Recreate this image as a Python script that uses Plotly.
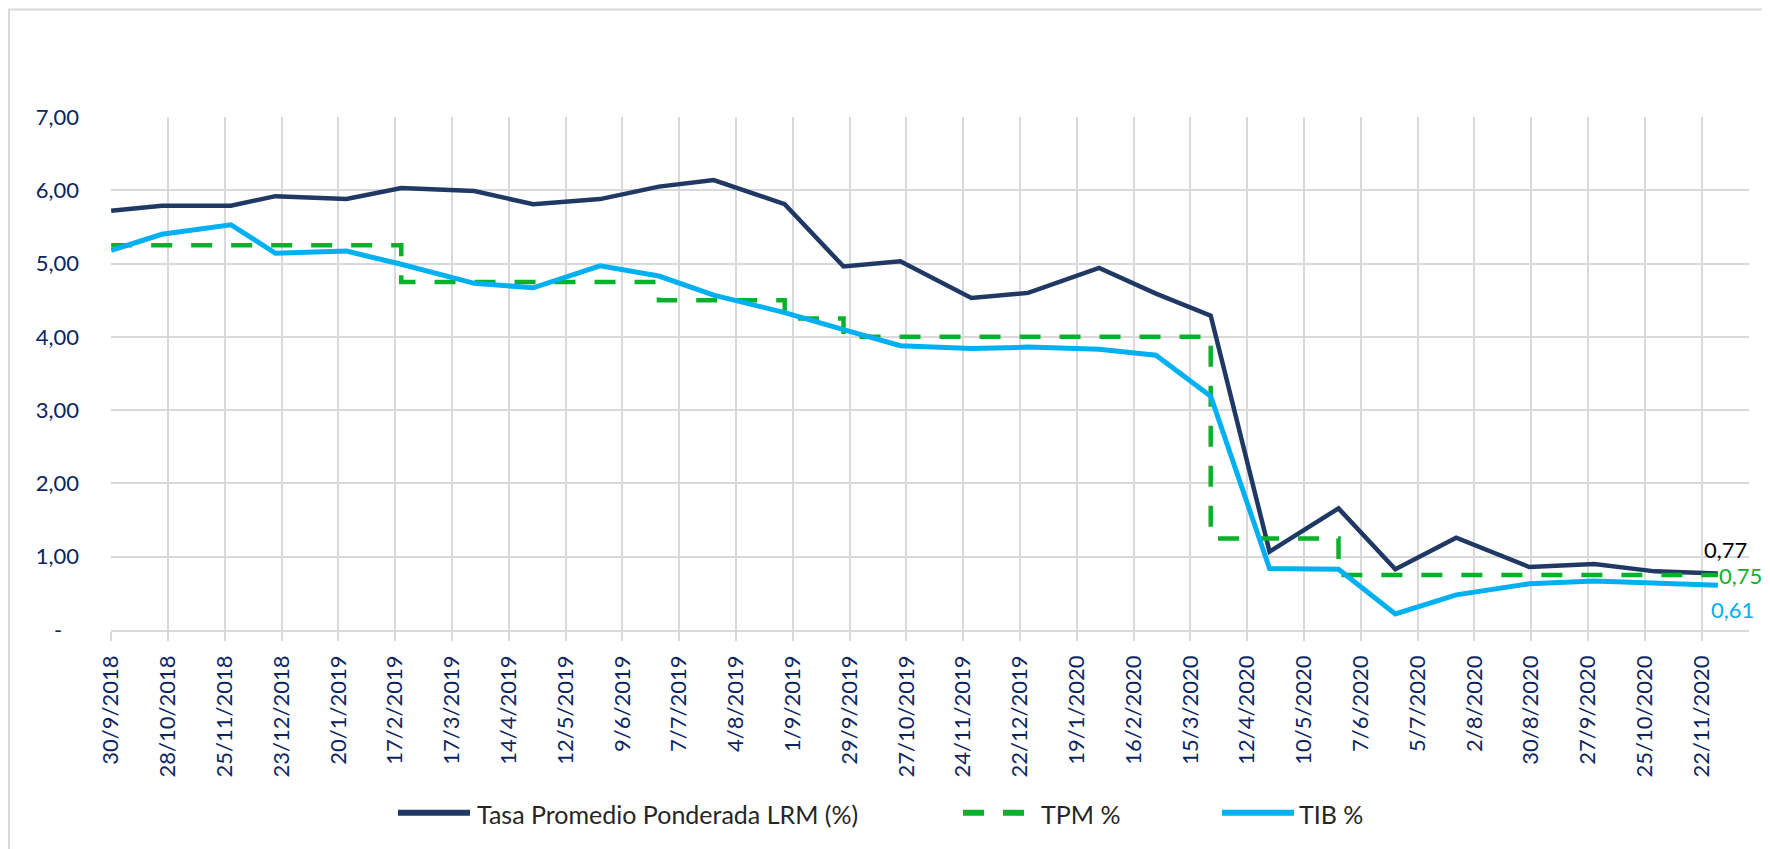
import plotly.graph_objects as go

# ---------------- data ----------------
dates = ["2018-09-30", "2018-10-25", "2018-11-28", "2018-12-20", "2019-01-24",
         "2019-02-20", "2019-03-28", "2019-04-26", "2019-05-29", "2019-06-27",
         "2019-07-24", "2019-08-28", "2019-09-26", "2019-10-24", "2019-11-28",
         "2019-12-26", "2020-01-30", "2020-02-27", "2020-03-25", "2020-04-23",
         "2020-05-27", "2020-06-24", "2020-07-24", "2020-08-29", "2020-09-30",
         "2020-10-30", "2020-11-30"]

lrm = [5.72, 5.79, 5.79, 5.92, 5.88, 6.03, 5.99, 5.81, 5.88, 6.05,
       6.14, 5.81, 4.96, 5.03, 4.53, 4.60, 4.94, 4.59, 4.29, 1.07,
       1.66, 0.83, 1.26, 0.86, 0.90, 0.80, 0.77]

tpm = [5.25, 5.25, 5.25, 5.25, 5.25, 4.75, 4.75, 4.75, 4.75, 4.50,
       4.50, 4.25, 4.00, 4.00, 4.00, 4.00, 4.00, 4.00, 1.25, 1.25,
       0.75, 0.75, 0.75, 0.75, 0.75, 0.75, 0.75]

tib = [5.18, 5.40, 5.53, 5.14, 5.17, 4.99, 4.73, 4.67, 4.97, 4.83,
       4.57, 4.33, 4.10, 3.88, 3.84, 3.86, 3.83, 3.75, 3.19, 0.84,
       0.83, 0.22, 0.48, 0.63, 0.67, 0.64, 0.61]

series_names = ["Tasa Promedio Ponderada LRM (%)", "TPM %", "TIB %"]
y_ticks = [0, 1, 2, 3, 4, 5, 6, 7]
y_ticktext = ["-\u00a0\u00a0\u00a0", "1,00", "2,00", "3,00", "4,00", "5,00", "6,00", "7,00"]

# ---------------- style ----------------
W, H = 1770, 849
L, R, T, B = 103, 1741, 108.5, 622
NAVY = "#203864"
GREEN = "#07B22A"
CYAN = "#00B0F0"
GRID = "#D9D9D9"
TICKC = "#0B2560"
FONT = "Lato"


def px_x(x):
    return (x - L) / (R - L)


def px_y(y):
    return (B - y) / (B - T)


def fmt(v):
    return f"{v:.2f}".replace(".", ",")


fig = go.Figure()
fig.add_trace(go.Scatter(x=dates, y=lrm, mode="lines", name=series_names[0],
                         line=dict(color=NAVY, width=4.5)))
fig.add_trace(go.Scatter(x=dates, y=tpm, mode="lines", name=series_names[1],
                         line=dict(color=GREEN, width=4.5, dash="21px,19px", shape="hv")))
fig.add_trace(go.Scatter(x=dates, y=tib, mode="lines", name=series_names[2],
                         line=dict(color=CYAN, width=5)))

# end labels
fig.add_annotation(x=dates[-1], y=lrm[-1], text=fmt(lrm[-1]), showarrow=False,
                   xanchor="center", yanchor="middle", xshift=8, yshift=24,
                   font=dict(family=FONT, size=22, color="#000000"))
fig.add_annotation(x=dates[-1], y=tpm[-1], text=fmt(tpm[-1]), showarrow=False,
                   xanchor="center", yanchor="middle", xshift=23, yshift=0,
                   font=dict(family=FONT, size=22, color=GREEN))
fig.add_annotation(x=dates[-1], y=tib[-1], text=fmt(tib[-1]), showarrow=False,
                   xanchor="center", yanchor="middle", xshift=15, yshift=-24,
                   font=dict(family=FONT, size=22, color=CYAN))

# manual legend (figure pixel positions)
LEG_Y = 805
legend_items = [
    (series_names[0], NAVY, "solid", 390, 462, 467),
    (series_names[1], GREEN, "21px,19px", 955, 1016, 1031),
    (series_names[2], CYAN, "solid", 1214, 1286, 1289),
]
for name, col, dash, x0, x1, xt in legend_items:
    fig.add_shape(type="line", xref="paper", yref="paper",
                  x0=px_x(x0), x1=px_x(x1), y0=px_y(LEG_Y), y1=px_y(LEG_Y),
                  line=dict(color=col, width=6, dash=dash))
    fig.add_annotation(xref="paper", yref="paper", x=px_x(xt), y=px_y(LEG_Y + 1),
                       text=name, showarrow=False, xanchor="left", yanchor="middle",
                       font=dict(family=FONT, size=25, color="#262626"))

# outer border around the figure
fig.add_shape(type="rect", xref="paper", yref="paper",
              x0=px_x(1), x1=px_x(W - 1), y0=px_y(1), y1=px_y(H - 1),
              line=dict(color=GRID, width=2), fillcolor="rgba(0,0,0,0)", layer="below")

fig.update_layout(
    width=W, height=H,
    margin=dict(l=L, r=W - R, t=T, b=H - B, pad=0),
    paper_bgcolor="white", plot_bgcolor="white",
    showlegend=False,
    font=dict(family=FONT, size=22, color=TICKC),
    xaxis=dict(
        type="date",
        range=["2018-09-29 22:00", "2020-12-15 08:00"],
        tick0="2018-09-30", dtick=28 * 86400000,
        tickformat="%-d/%-m/%Y", tickangle=-90,
        showgrid=True, gridcolor=GRID, gridwidth=1.5,
        ticks="outside", ticklen=9, tickcolor=GRID, tickwidth=1.5,
        showline=True, linecolor=GRID, linewidth=1.5,
        tickfont=dict(family=FONT, size=22, color=TICKC),
        ticklabelstandoff=6,
        zeroline=False,
    ),
    yaxis=dict(
        range=[0, 7], tickvals=y_ticks, ticktext=y_ticktext,
        showgrid=True, gridcolor=GRID, gridwidth=1.5,
        zeroline=False, showline=False, ticks="",
        tickfont=dict(family=FONT, size=22, color=TICKC),
        ticklabelstandoff=31,
    ),
)

fig.write_html("out.html")
